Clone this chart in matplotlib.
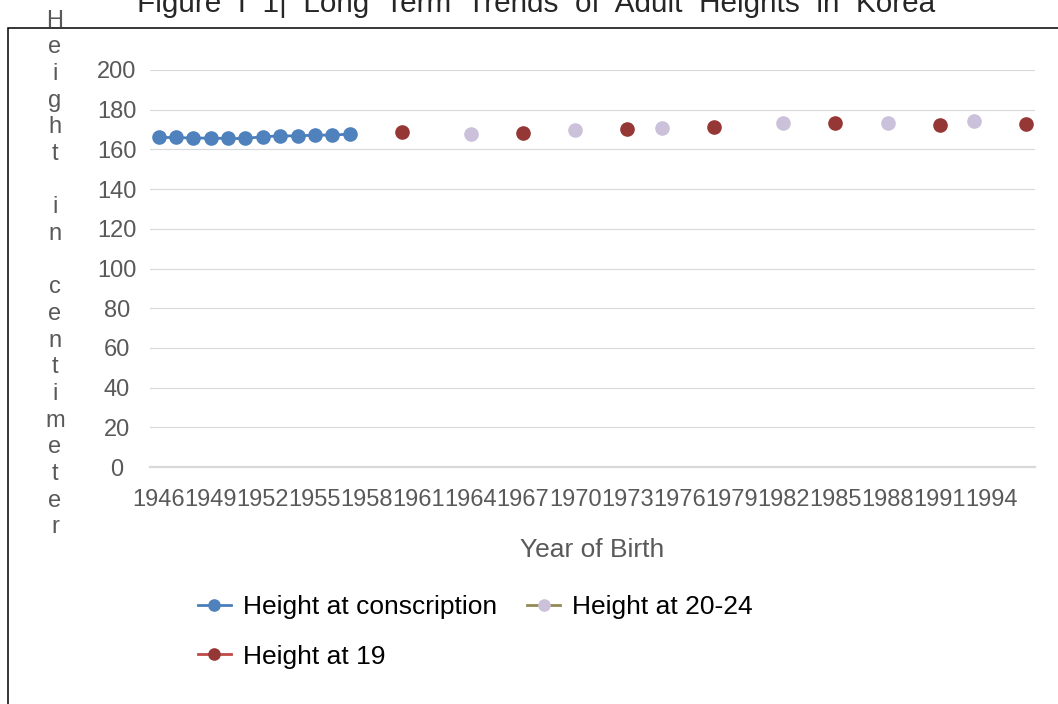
import numpy as np
import matplotlib
matplotlib.use("Agg")
import matplotlib.pyplot as plt
from matplotlib.patches import Rectangle

plt.rcParams['font.family'] = ['Liberation Sans', 'DejaVu Sans']

# ---- data ----
years = list(range(1946, 1997))
tick_years = list(range(1946, 1995, 3))

conscription_years = list(range(1946, 1958))
conscription = [166.0, 166.0, 165.7, 165.7, 165.5, 165.5, 166.4, 166.8, 166.8, 167.2, 167.2, 167.7]

h19_years = [1960, 1967, 1973, 1978, 1985, 1991, 1996]
h19 = [168.8, 168.2, 170.3, 171.4, 173.4, 172.5, 172.9]

h2024_years = [1964, 1970, 1975, 1982, 1988, 1993]
h2024 = [167.6, 169.6, 171.0, 173.4, 173.4, 174.2]

title = "Figure  I  1|  Long  Term  Trends  of  Adult  Heights  in  Korea"
ylabel = "Height in centimeter"
xlabel = "Year of Birth"


def full_series(ys, vals):
    arr = np.full(len(years), np.nan)
    for y, v in zip(ys, vals):
        arr[years.index(y)] = v
    return arr


x = np.arange(len(years))
s_con = full_series(conscription_years, conscription)
s_19 = full_series(h19_years, h19)
s_20 = full_series(h2024_years, h2024)

W, H = 1058, 704
fig = plt.figure(figsize=(W / 100, H / 100), dpi=100)
ax = fig.add_axes([150 / W, 1 - 467 / H, (1035 - 150) / W, (467 - 70) / H])

gray = '#595959'
grid = '#D9D9D9'

l1, = ax.plot(x, s_con, color='#4A7EBB', lw=2.0, marker='o', ms=9.5,
              mfc='#4F81BD', mec='#4F81BD', label='Height at conscription')
l2, = ax.plot(x, s_20, color='#948A54', lw=2.0, marker='o', ms=9.5,
              mfc='#CCC1DA', mec='#CCC1DA', label='Height at 20-24')
l3, = ax.plot(x, s_19, color='#BE4B48', lw=2.0, marker='o', ms=9.5,
              mfc='#953735', mec='#953735', label='Height at 19')

ax.set_xlim(-0.5, len(years) - 0.5)
ax.set_ylim(0, 200)
ax.set_yticks(range(0, 201, 20))
ax.set_xticks([years.index(y) for y in tick_years])
ax.set_xticklabels([str(y) for y in tick_years])
ax.yaxis.grid(True, color=grid, lw=0.8)
ax.set_axisbelow(True)
for s in ['top', 'right', 'left']:
    ax.spines[s].set_visible(False)
ax.spines['bottom'].set_color(grid)
ax.spines['bottom'].set_linewidth(1.6)
ax.tick_params(axis='both', length=0, colors=gray, labelsize=17)
ax.tick_params(axis='x', pad=16)
ax.tick_params(axis='y', pad=24)
for t in ax.get_yticklabels():
    t.set_horizontalalignment('center')

ax.set_xlabel(xlabel, fontsize=19, color=gray, labelpad=19)

# vertical stacked y label
fig.text(55 / W, 1 - 274 / H, "\n".join(list(ylabel)), fontsize=17, color=gray,
         ha='center', va='center', linespacing=1.275)

# title (cut off at top in the reference)
fig.text(536 / W, 1 - 12 / H, title, fontsize=21.4, color='#262626',
         ha='center', va='baseline')

# frame
fig.add_artist(Rectangle((8 / W, -0.1), 1.2, 1 - 28 / H + 0.1, fill=False,
                         ec='black', lw=1.1, transform=fig.transFigure))

leg = fig.legend(handles=[l1, l3, l2], loc='upper left',
                 bbox_to_anchor=(198 / W, 1 - 595 / H), ncol=2, frameon=False,
                 fontsize=19, handlelength=1.25, handletextpad=0.45,
                 columnspacing=1.15, labelspacing=0.97, borderpad=0,
                 borderaxespad=0, markerscale=0.85)
for t in leg.get_texts():
    t.set_color('black')

fig.savefig('out.png', dpi=100)
